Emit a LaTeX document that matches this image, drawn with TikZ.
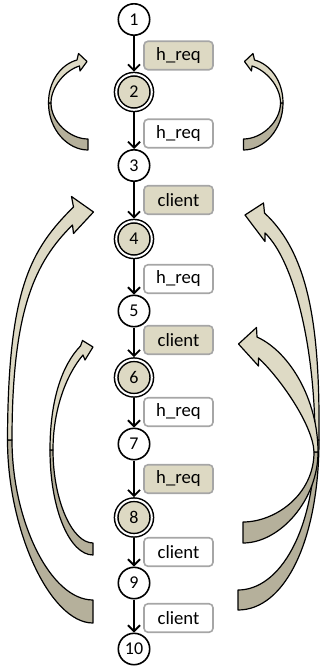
\documentclass[tikz,border=0pt]{standalone}
\usepackage{fontspec}
\setmainfont{Carlito}
\usetikzlibrary{arrows.meta}
\definecolor{paper}{HTML}{DDD9C3}
\definecolor{facelight}{HTML}{DEDAC5}
\definecolor{facedark}{HTML}{B5B09B}
\definecolor{rim}{HTML}{A6A6A6}
\begin{document}
\begin{tikzpicture}[x=1pt, y=-1pt,
  plain/.style={circle, draw, line width=1.6pt, fill=white, minimum size=31.4pt,
    inner sep=0pt, font=\fontsize{18}{20}\selectfont},
  dbl/.style={circle, draw, line width=1.5pt, double=white, double distance=2pt,
    fill=paper, minimum size=35.6pt, inner sep=0pt, outer sep=2.5pt,
    font=\fontsize{18}{20}\selectfont},
  tagwhite/.style={draw=rim, line width=1.6pt, rounded corners=4pt, fill=white,
    minimum width=69pt, minimum height=28.5pt, inner sep=0pt,
    font=\fontsize{18.7}{20}\selectfont},
  tagfill/.style={tagwhite, fill=paper},
  flow/.style={line width=1.8pt, -{Straight Barb[length=6pt,width=12pt]}},
  front/.style={fill=facelight, draw=black, line width=1.2pt, line join=round},
  back/.style={fill=facedark, draw=black, line width=1.2pt, line join=round}]
\useasboundingbox (0,0) rectangle (321,669);

% curved block arrows: darker back face near the tail, lighter front face near the head
% top left
\draw[back] (48.5,103) .. controls (48.5,130) and (68,150) .. (88,150) -- (88,139)
  .. controls (70,139) and (51,122) .. (51,103) -- cycle;
\draw[front] (48.5,103) .. controls (48.5,80) and (62,64) .. (77,60) -- (78.5,53.5)
  -- (87,61.5) -- (80,71) -- (79.5,66) .. controls (66,70) and (51,86) .. (51,103) -- cycle;
% top right
\draw[back] (283,103) .. controls (283,130) and (263.5,150) .. (243.5,150) -- (243.5,139)
  .. controls (261.5,139) and (280.5,122) .. (280.5,103) -- cycle;
\draw[front] (283,103) .. controls (283,80) and (269.5,64) .. (254.5,60) -- (253,53.5)
  -- (244.5,61.5) -- (251.5,71) -- (252,66) .. controls (265.5,70) and (280.5,86) .. (280.5,103) -- cycle;
% left, outer
\draw[back] (7.5,440) .. controls (7.5,530) and (50,623) .. (93,623) -- (93,600)
  .. controls (50,600) and (12,520) .. (12,440) -- cycle;
\draw[front] (7.5,440) .. controls (8,290) and (30,250) .. (73.5,207) -- (71.5,196.5)
  -- (93.5,212) -- (73.5,233.5) -- (72.5,225) .. controls (35,262) and (12,310) .. (12,440) -- cycle;
% left, inner
\draw[back] (50,450) .. controls (50,510) and (70,555) .. (93,555) -- (93,543)
  .. controls (72,543) and (53,500) .. (53,450) -- cycle;
\draw[front] (50,450) .. controls (50,400) and (62,365) .. (80.5,346) -- (82.5,340.5)
  -- (93,347) -- (85,360) -- (83,355) .. controls (66,375) and (53,410) .. (53,450) -- cycle;
% right, outer
\draw[back] (319,440) .. controls (319,540) and (285,610) .. (238,610) -- (238,590)
  .. controls (280,590) and (315,530) .. (315,440) -- cycle;
\draw[front] (319,440) .. controls (320,330) and (310,255) .. (264.5,213) -- (263.5,203)
  -- (245,215) -- (265,241.5) -- (265,233) .. controls (295,262) and (315,350) .. (315,440) -- cycle;
% right, inner
\draw[back] (318,452) .. controls (318,500) and (280,543) .. (243,543) -- (243,522)
  .. controls (275,522) and (314,495) .. (314,452) -- cycle;
\draw[front] (318,452) .. controls (318,400) and (290,352) .. (257,337) -- (256.5,327.5)
  -- (238.5,344) -- (258.5,366) -- (258.5,358) .. controls (280,378) and (313,425) .. (314,452) -- cycle;

% states
\node[plain] (n1) at (134,19.5) {1};
\node[dbl] (n2) at (134,92) {2};
\node[plain] (n3) at (134,165.5) {3};
\node[dbl] (n4) at (134,239) {4};
\node[plain] (n5) at (134,311) {5};
\node[dbl] (n6) at (134,377.5) {6};
\node[plain] (n7) at (134,444) {7};
\node[dbl] (n8) at (134,517.5) {8};
\node[plain] (n9) at (134,583) {9};
\node[plain] (n10) at (134,649) {10};

% transitions
\draw[flow] (n1) -- (n2);
\draw[flow] (n2) -- (n3);
\draw[flow] (n3) -- (n4);
\draw[flow] (n4) -- (n5);
\draw[flow] (n5) -- (n6);
\draw[flow] (n6) -- (n7);
\draw[flow] (n7) -- (n8);
\draw[flow] (n8) -- (n9);
\draw[flow] (n9) -- (n10);

% transition labels
\node[tagfill] (t1) at (178.5,55.5) {h\_req};
\node[tagwhite] (t2) at (178.5,133.5) {h\_req};
\node[tagfill] (t3) at (178.5,200) {client};
\node[tagwhite] (t4) at (178.5,279) {h\_req};
\node[tagfill] (t5) at (178.5,340) {client};
\node[tagwhite] (t6) at (178.5,412) {h\_req};
\node[tagfill] (t7) at (178.5,479) {h\_req};
\node[tagwhite] (t8) at (178.5,552) {client};
\node[tagwhite] (t9) at (178.5,618) {client};
\end{tikzpicture}
\end{document}
